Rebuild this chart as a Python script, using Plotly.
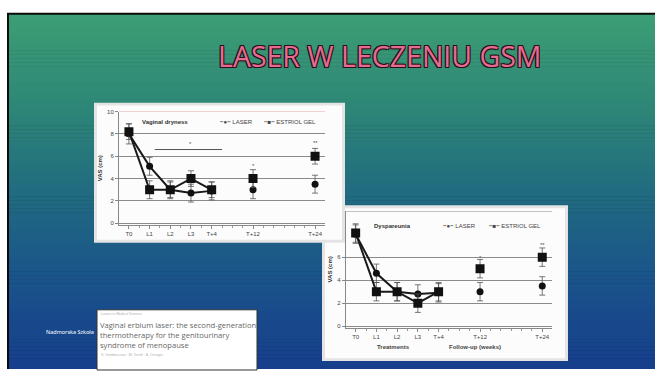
import plotly.graph_objects as go

# ---------------- data ----------------
categories = ["T0", "L1", "L2", "L3", "T+4", "T+12", "T+24"]
x_pos = [0, 1, 2, 3, 4, 6, 9]
y_ticks = [0, 2, 4, 6, 8, 10]

dry_laser = [8.0, 5.1, 3.0, 2.7, 2.9, 3.0, 3.5]
dry_laser_err = [0.9, 0.8, 0.7, 0.8, 0.8, 0.8, 0.8]
dry_estriol = [8.2, 3.0, 3.0, 4.0, 3.0, 4.0, 6.0]
dry_estriol_err = [0.7, 0.8, 0.8, 0.7, 0.7, 0.8, 0.7]

dys_laser = [8.0, 4.6, 3.0, 2.8, 2.9, 3.0, 3.5]
dys_laser_err = [0.8, 0.8, 0.8, 0.8, 0.8, 0.8, 0.8]
dys_estriol = [8.1, 3.0, 3.0, 2.0, 3.0, 5.0, 6.0]
dys_estriol_err = [0.8, 0.8, 0.8, 0.8, 0.8, 0.8, 0.8]

W, H = 655, 371


def px(x):
    return x / W


def py(y):
    return 1 - y / H


fig = go.Figure()
shapes = []
annotations = []

# ---------- slide background ----------
shapes.append(dict(type="rect", xref="paper", yref="paper", x0=px(7), x1=1, y0=0, y1=py(10),
                   fillcolor="#0b0b0b", line=dict(width=0), layer="below"))
stops = [(12, (60, 158, 117)), (100, (46, 136, 118)), (190, (33, 108, 128)),
         (280, (26, 83, 138)), (371, (22, 62, 140))]


def col_at(y):
    for (y0, c0), (y1, c1) in zip(stops[:-1], stops[1:]):
        if y0 <= y <= y1:
            t = (y - y0) / (y1 - y0)
            return "rgb(%d,%d,%d)" % tuple(round(a + (b - a) * t) for a, b in zip(c0, c1))
    return "rgb(%d,%d,%d)" % stops[-1][1]


step = 4
yy = 12
while yy < H:
    shapes.append(dict(type="rect", xref="paper", yref="paper", x0=px(9), x1=1,
                       y0=py(min(yy + step + 0.5, H)), y1=py(yy), fillcolor=col_at(yy + step / 2),
                       line=dict(width=0), layer="below"))
    yy += step


def panel(x0, y0, x1, y1):
    shapes.append(dict(type="rect", xref="paper", yref="paper", x0=px(x0), x1=px(x1),
                       y0=py(y1), y1=py(y0), fillcolor="#e4e4e4", line=dict(width=0), layer="below"))
    shapes.append(dict(type="rect", xref="paper", yref="paper", x0=px(x0 + 3), x1=px(x1 - 3),
                       y0=py(y1 - 3), y1=py(y0 + 3), fillcolor="#fcfcfc", line=dict(width=0), layer="below"))


panel(322, 205, 568, 363)   # dyspareunia (behind)
panel(94, 101, 345, 243)    # vaginal dryness (front)

# ---------- traces ----------
def add_series(xa, ya, vals, errs, symbol, size):
    common = dict(xaxis=xa, yaxis=ya, showlegend=False, hoverinfo="skip",
                  marker=dict(symbol=symbol, size=size, color="#111111"))
    fig.add_trace(go.Scatter(x=x_pos[:5], y=vals[:5], mode="lines+markers",
                             line=dict(color="#1a1a1a", width=2),
                             error_y=dict(type="data", array=errs[:5], color="#555555",
                                          thickness=0.8, width=3), **common))
    fig.add_trace(go.Scatter(x=x_pos[5:], y=vals[5:], mode="markers",
                             error_y=dict(type="data", array=errs[5:], color="#555555",
                                          thickness=0.8, width=3), **common))


add_series("x", "y", dry_laser, dry_laser_err, "circle", 7)
add_series("x", "y", dry_estriol, dry_estriol_err, "square", 9)
add_series("x2", "y2", dys_laser, dys_laser_err, "circle", 7)
add_series("x2", "y2", dys_estriol, dys_estriol_err, "square", 9)

tickfont = dict(family="Liberation Sans", size=6, color="#444444")
title_font = dict(family="Liberation Sans", size=6, color="#333333")


def xaxis_cfg(domain, rng):
    return dict(domain=domain, range=rng, tickmode="array", tickvals=x_pos, ticktext=categories,
                tickfont=tickfont, showgrid=False, zeroline=False, showline=True,
                linecolor="#888888", linewidth=1, ticks="outside", ticklen=3,
                tickcolor="#888888", fixedrange=True,
                minor=dict(dtick=0.5, tick0=0, ticks="outside", ticklen=2, tickcolor="#999999"))


def yaxis_cfg(domain, rng, tickvals):
    return dict(domain=domain, range=rng, tickmode="array", tickvals=tickvals,
                tickfont=tickfont, showgrid=True, gridcolor="#8a8a8a", gridwidth=1,
                zeroline=False, showline=True, linecolor="#888888", linewidth=1,
                ticks="outside", ticklen=3, tickcolor="#888888", fixedrange=True,
                title=dict(text="<b>VAS (cm)</b>", font=title_font, standoff=4))


layout_axes = dict(
    xaxis=xaxis_cfg([px(119), px(325)], [-0.48, 9.48]),
    yaxis=yaxis_cfg([py(225), py(110)], [-0.15, 10], y_ticks),
    xaxis2=xaxis_cfg([px(345.7), px(552)], [-0.48, 9.47]),
    yaxis2=yaxis_cfg([py(329), py(211)], [-0.12, 10], y_ticks[:4]),
)
layout_axes["xaxis2"]["anchor"] = "y2"
layout_axes["yaxis2"]["anchor"] = "x2"

# pinkish top line on first chart
shapes.append(dict(type="line", xref="x domain", yref="y", x0=0, x1=1, y0=10, y1=10,
                   line=dict(color="#e3a3a3", width=1)))
# top line on second chart
shapes.append(dict(type="line", xref="x2 domain", yref="y2", x0=0, x1=1, y0=10, y1=10,
                   line=dict(color="#8a8a8a", width=1)))
# significance bar
shapes.append(dict(type="line", xref="x", yref="y", x0=1.25, x1=4.5, y0=6.6, y1=6.6,
                   line=dict(color="#555555", width=1)))

# ---------- chart annotations ----------
def ann(text, x, y, size=6, color="#333333", xanchor="center", xref="paper", yref="paper",
        family="Liberation Sans", **kw):
    annotations.append(dict(text=text, x=x, y=y, xref=xref, yref=yref, showarrow=False,
                            xanchor=xanchor, yanchor="middle",
                            font=dict(family=family, size=size, color=color), **kw))


ann("<b>Vaginal dryness</b>", px(140), py(121), xanchor="left")
ann("<b>−●−</b> LASER", px(218), py(121), xanchor="left", color="#444444")
ann("<b>−■−</b> ESTRIOL GEL", px(262), py(121), xanchor="left", color="#444444")
ann("*", 3, 7.05, xref="x", yref="y", color="#555555")
ann("*", 6, 5.1, xref="x", yref="y", color="#555555")
ann("**", 9, 7.2, xref="x", yref="y", color="#555555")

ann("<b>Dyspareunia</b>", px(372), py(226), xanchor="left")
ann("<b>−●−</b> LASER", px(441), py(226), xanchor="left", color="#444444")
ann("<b>−■−</b> ESTRIOL GEL", px(487), py(226), xanchor="left", color="#444444")
ann("*", 6, 5.9, xref="x2", yref="y2", color="#555555")
ann("**", 9, 7.1, xref="x2", yref="y2", color="#555555")
ann("<b>Treatments</b>", px(393), py(349), color="#444444")
ann("<b>Follow-up (weeks)</b>", px(475), py(349), color="#444444")

# ---------- slide title ----------
annotations.append(dict(text="LASER W LECZENIU GSM", x=px(379), y=py(54), xref="paper", yref="paper",
                        showarrow=False, xanchor="center", yanchor="middle",
                        font=dict(family="Open Sans", size=28.5, color="#e46c90",
                                  shadow="-1px -1px 0 #2a0e18, 1px -1px 0 #2a0e18, -1px 1px 0 #2a0e18, 1px 1px 0 #2a0e18")))

# ---------- footer and article box ----------
ann("Nadmorska Szkoła", px(70), py(334), size=5.5, color="#ffffff", family="Noto Sans")
shapes.append(dict(type="rect", xref="paper", yref="paper", x0=px(97), x1=px(257), y0=py(372),
                   y1=py(311), fillcolor="#ffffff", line=dict(color="#333333", width=1)))
ann("Lasers in Medical Science", px(99), py(315), size=3.5, color="#b0b0b0", xanchor="left")
ann("Vaginal erbium laser: the second-generation", px(98), py(326), size=7.6, color="#666666",
    xanchor="left", family="Open Sans")
ann("thermotherapy for the genitourinary", px(98), py(337), size=7.6, color="#666666",
    xanchor="left", family="Open Sans")
ann("syndrome of menopause", px(98), py(347), size=7.6, color="#666666", xanchor="left",
    family="Open Sans")
ann("S. Gambacciani · M. Torelli · A. Cervigni", px(99), py(357), size=3.5, color="#b0b0b0",
    xanchor="left")

fig.update_layout(width=W, height=H, margin=dict(l=0, r=0, t=0, b=0),
                  paper_bgcolor="#ffffff", plot_bgcolor="rgba(0,0,0,0)",
                  shapes=shapes, annotations=annotations, showlegend=False, **layout_axes)

fig.write_html("out.html", config={"displayModeBar": False},
               post_script="document.body.style.margin='0px';document.body.style.overflow='hidden';")
